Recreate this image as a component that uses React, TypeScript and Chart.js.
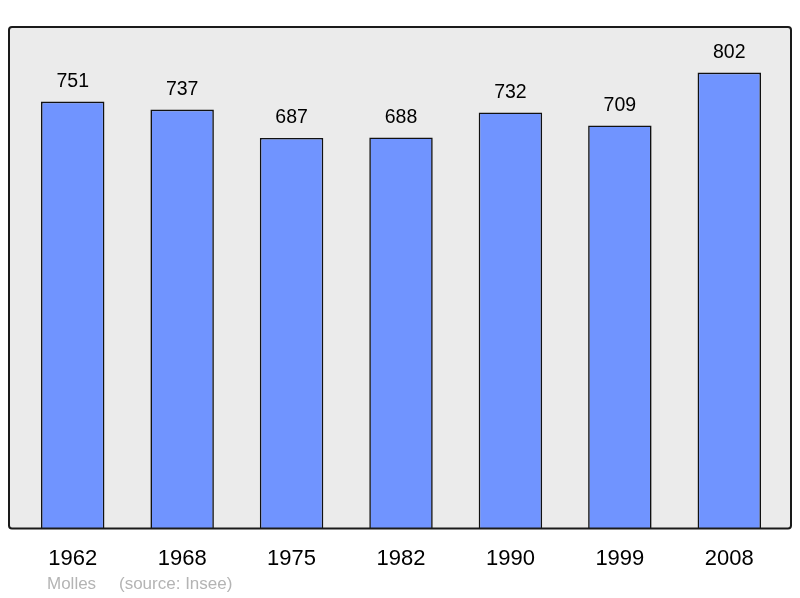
import React, { useEffect, useRef } from "react";
import { Chart, registerables } from "chart.js";

Chart.register(...registerables);

const years = ["1962", "1968", "1975", "1982", "1990", "1999", "2008"];
const population = [751, 737, 687, 688, 732, 709, 802];
const footerPlace = "Molles";
const footerSource = "(source: Insee)";

const FONT = "'Liberation Sans', Arial, sans-serif";

export default function App() {
  const ref = useRef<HTMLCanvasElement | null>(null);

  useEffect(() => {
    document.body.style.margin = "0";
    const canvas = ref.current;
    if (!canvas) return;

    const framePath = (ctx: any, chartArea: any) => {
      const l = chartArea.left - 9;
      const r = chartArea.right + 7;
      const t = chartArea.top;
      const b = chartArea.bottom;
      ctx.beginPath();
      if (ctx.roundRect) ctx.roundRect(l, t, r - l, b - t, 3);
      else ctx.rect(l, t, r - l, b - t);
    };

    const framePlugin = {
      id: "frame",
      beforeDatasetsDraw(chart: any) {
        const { ctx, chartArea } = chart;
        ctx.save();
        framePath(ctx, chartArea);
        ctx.fillStyle = "#ebebeb";
        ctx.fill();
        ctx.restore();
      },
      afterDatasetsDraw(chart: any) {
        const { ctx, chartArea } = chart;
        ctx.save();
        framePath(ctx, chartArea);
        ctx.lineWidth = 2;
        ctx.strokeStyle = "#1a1a1a";
        ctx.stroke();

        const meta = chart.getDatasetMeta(0);
        ctx.fillStyle = "#000";
        ctx.font = `19.5px ${FONT}`;
        ctx.textAlign = "center";
        ctx.textBaseline = "middle";
        meta.data.forEach((bar: any, i: number) => {
          ctx.fillText(String(population[i]), bar.x, bar.y - 20);
        });

        ctx.fillStyle = "#b4b4b4";
        ctx.font = `17px ${FONT}`;
        ctx.textAlign = "left";
        ctx.fillText(footerPlace, chartArea.left + 29, chartArea.bottom + 56);
        ctx.fillText(footerSource, chartArea.left + 101, chartArea.bottom + 56);
        ctx.restore();
      },
    };

    const chart = new Chart(canvas, {
      type: "bar",
      data: {
        labels: years,
        datasets: [
          {
            data: population,
            backgroundColor: "#7094ff",
            borderColor: "#111",
            borderWidth: 1.6,
            barPercentage: 0.58,
            categoryPercentage: 1,
          },
        ],
      },
      options: {
        animation: false,
        responsive: false,
        maintainAspectRatio: false,
        layout: { padding: { top: 27, left: 18, right: 16, bottom: 17 } },
        plugins: { legend: { display: false }, tooltip: { enabled: false } },
        scales: {
          x: {
            grid: { display: false },
            border: { display: false },
            ticks: {
              color: "#000",
              font: { family: FONT, size: 22 },
              padding: 9,
            },
          },
          y: {
            display: false,
            min: 0,
            max: 882.2,
          },
        },
      },
      plugins: [framePlugin],
    });

    return () => chart.destroy();
  }, []);

  return (
    <div style={{ width: 800, height: 598 }}>
      <canvas ref={ref} width={800} height={598} style={{ display: "block" }} />
    </div>
  );
}
